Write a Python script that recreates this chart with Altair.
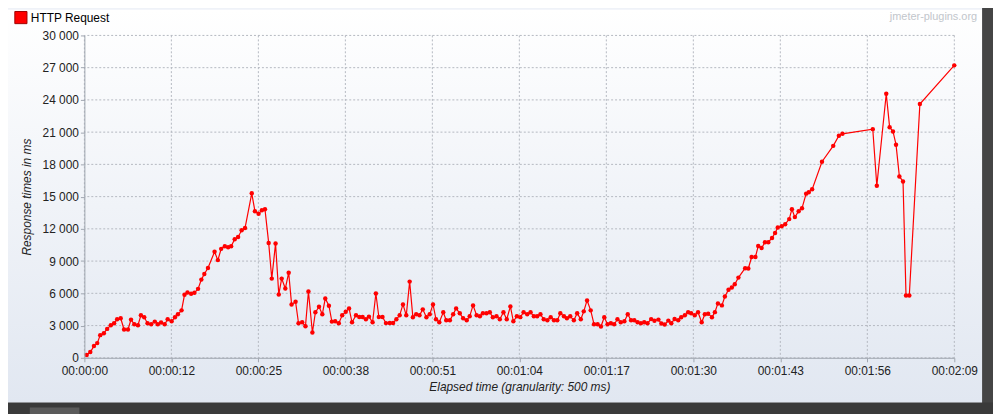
import json
import altair as alt
import pandas as pd

# ---------------- data ----------------
series_names = ["HTTP Request"]

times = [
    0.34, 0.88, 1.42, 1.91, 2.35, 2.89, 3.38, 3.92, 4.41, 4.86, 5.39, 5.89, 6.47, 6.92, 7.41, 7.95,
    8.39, 8.88, 9.37, 9.91, 10.45, 10.89, 11.38, 11.92, 12.36, 12.95, 13.44, 13.88, 14.42, 14.86,
    15.30, 15.84, 16.33, 16.87, 17.36, 17.80, 18.34, 19.32, 19.81, 20.30, 20.84, 21.33, 21.78,
    22.31, 22.81, 23.34, 23.84, 24.84,
    25.31, 25.85, 26.34, 26.80, 27.35, 27.81, 28.37, 28.85, 29.28, 29.82, 30.32, 30.75, 31.34,
    31.78, 32.32, 32.81, 33.25, 33.84, 34.28, 34.82, 35.31, 35.75, 36.29, 36.73, 37.22, 37.76,
    38.26, 38.79, 39.28, 39.72, 40.31, 40.80, 41.29, 41.78, 42.23, 42.77, 43.26, 43.70, 44.24,
    44.76,
    45.32, 45.81, 46.30, 46.79, 47.28, 47.77, 48.27, 48.75, 49.24, 49.73, 50.22, 50.76, 51.25,
    51.74, 52.18, 52.67, 53.26, 53.70, 54.24, 54.73, 55.17, 55.71, 56.21, 56.74, 57.18, 57.68,
    58.21, 58.70, 59.14, 59.68, 60.17, 60.62, 61.16, 61.65, 62.19, 62.68, 63.22, 63.66, 64.18,
    64.69,
    65.18, 65.72, 66.21, 66.70, 67.19, 67.68, 68.17, 68.71, 69.20, 69.69, 70.18, 70.63, 71.17,
    71.61, 72.10, 72.64, 73.13, 73.67, 74.11, 74.60, 75.14, 75.63, 76.17, 76.66, 77.15, 77.64,
    78.13, 78.62, 79.11, 79.60, 80.14, 80.64, 81.13, 81.61, 82.10, 82.59, 83.08, 83.57, 84.11,
    84.60,
    85.19, 85.63, 86.12, 86.66, 87.10, 87.59, 88.13, 88.57, 89.11, 89.60, 90.04, 90.58, 91.07,
    91.61, 92.08, 92.57, 93.13, 93.57, 94.02, 94.61, 95.05, 95.59, 96.08, 96.52, 97.06, 98.06,
    98.53, 99.02, 99.58, 100.00, 100.50, 101.00, 101.50, 102.05, 102.50, 102.90, 103.48, 104.00,
    104.60, 105.00, 105.44, 106.00, 106.50, 107.11, 107.50, 108.00, 109.46, 111.13, 111.97,
    112.50, 117.00, 117.60, 119.00, 119.50, 120.00, 120.45, 120.95, 121.49, 121.93, 122.42,
    123.99, 129.09,
]

values = [
    262, 538, 1092, 1369, 2108, 2292, 2692, 3031, 3215, 3585, 3677, 2631, 2631, 3554, 3123, 3031,
    3954, 3769, 3215, 3123, 3369, 3123, 3277, 3123, 3585, 3400, 3769, 4046, 4415, 5862,
    6077, 5954, 6046, 6415, 7277, 7800, 8354, 9862, 9092, 10138, 10385, 10292, 10385,
    11031, 11246, 11862, 12077, 15308,
    13646, 13400, 13738, 13831, 10692, 7369, 10631, 5892, 7369, 6446, 7923, 4969, 5215,
    3215, 3308, 2938, 6169, 2354, 4231, 4754, 4046, 5523, 4846, 3369, 3400, 3215,
    3954, 4292, 4600, 3308, 3954, 3800, 3800, 3585, 3831, 3308, 5985, 3800, 3800,
    3230,
    3246, 3246, 3585, 3954, 4969, 3954, 7092, 3769, 4046, 3954, 4508, 3769, 4046,
    4969, 3585, 3308, 4231, 3492, 3492, 4046, 4600, 4138, 3677, 3492, 3862, 4877,
    3954, 3862, 4138, 4138, 4231, 3769, 3862, 3585, 4231, 3585, 4785, 3400, 3862,
    3785,
    4231, 4046, 4231, 3862, 3862, 4046, 3585, 3492, 3769, 3492, 3492, 4138, 3862,
    3677, 3862, 3492, 4138, 3585, 4323, 5338, 4415, 3123, 3123, 2908, 3769, 3123,
    3215, 3123, 3585, 3308, 3400, 4046, 3492, 3492, 3308, 3215, 3308, 3215, 3600,
    3450,
    3554, 3185, 3092, 3462, 3215, 3615, 3492, 3769, 3954, 4231, 4138, 3954, 4231,
    3308, 4050, 4108, 3769, 4250, 5062, 4877, 5708, 6340, 6538, 6846, 7462, 8340,
    8310, 9380, 9380, 10400, 10215, 10754, 10754, 11154, 11615, 12123, 12246, 12431,
    12908, 13831, 13092, 13646, 13923, 15277, 15400, 15677, 18246, 19723, 20662,
    20846, 21280, 16015, 24569, 21462, 21062, 19831, 16877, 16415, 5800, 5800,
    23615, 27215,
]

x_tick_values = [0, 12.91, 25.82, 38.73, 51.64, 64.55, 77.46, 90.37, 103.28, 116.19, 129.1]
x_tick_labels = ["00:00:00", "00:00:12", "00:00:25", "00:00:38", "00:00:51", "00:01:04",
                 "00:01:17", "00:01:30", "00:01:43", "00:01:56", "00:02:09"]
y_tick_values = [0, 3000, 6000, 9000, 12000, 15000, 18000, 21000, 24000, 27000, 30000]
y_tick_labels = ["0", "3 000", "6 000", "9 000", "12 000", "15 000", "18 000", "21 000",
                 "24 000", "27 000", "30 000"]

x_title = "Elapsed time (granularity: 500 ms)"
y_title = "Response times in ms"
watermark = "jmeter-plugins.org"

# ---------------- tables ----------------
df = pd.DataFrame({"t": times, "ms": values, "series": series_names[0]})
xgrid = pd.DataFrame({"t": x_tick_values})
ygrid = pd.DataFrame({"ms": y_tick_values})
one = pd.DataFrame({"k": [0]})

W, H = 877, 325
FONT = "Liberation Sans"
GRID = "#b4b8c0"
AXIS = "#a0a6b0"
DARK = "#454545"

x_scale = alt.Scale(domain=[0, 129.1], nice=False, zero=False)
y_scale = alt.Scale(domain=[0, 30000], nice=False)

x_label_expr = f"{json.dumps(x_tick_labels)}[indexof({json.dumps(x_tick_values)}, datum.value)]"
y_label_expr = f"{json.dumps(y_tick_labels)}[indexof({json.dumps(y_tick_values)}, datum.value)]"

x_axis = alt.Axis(values=x_tick_values, labelExpr=x_label_expr, title=x_title, grid=False,
                  labelFlush=False, labelOverlap=False, labelPadding=4, titlePadding=5,
                  zindex=1)
y_axis = alt.Axis(values=y_tick_values, labelExpr=y_label_expr, title=y_title, grid=False,
                  labelOverlap=False, labelPadding=2, titlePadding=9, zindex=1)

gradient = alt.LinearGradient(
    gradient="linear",
    stops=[alt.GradientStop(color="#ffffff", offset=0),
           alt.GradientStop(color="#e1e7f1", offset=1)],
    x1=0, x2=0, y1=0, y2=1,
)

# light panel behind the whole chart (axes are drawn above it, zindex=1)
panel = alt.Chart(one).mark_rect(fill=gradient).encode(
    x=alt.value(-77), x2=alt.value(905), y=alt.value(-26), y2=alt.value(370)
)
# dark window frame pieces (right border, bottom bar, tab)
right_border = alt.Chart(one).mark_rect(fill=DARK).encode(
    x=alt.value(905), x2=alt.value(920), y=alt.value(-30), y2=alt.value(400)
)
bottom_bar = alt.Chart(one).mark_rect(fill="#3a3a3a").encode(
    x=alt.value(-80), x2=alt.value(920), y=alt.value(370), y2=alt.value(400)
)
tab = alt.Chart(one).mark_rect(fill="#5a5a5a").encode(
    x=alt.value(-55), x2=alt.value(-5), y=alt.value(375), y2=alt.value(400)
)
wm = alt.Chart(one).mark_text(
    text=watermark, font=FONT, fontSize=11, color="#c2c6cc", align="right", baseline="middle"
).encode(x=alt.value(900), y=alt.value(-19))

ygrid_layer = alt.Chart(ygrid).mark_rule(color=GRID, strokeDash=[2, 2], strokeWidth=1).encode(
    y=alt.Y("ms:Q", scale=y_scale, axis=y_axis)
)
xgrid_layer = alt.Chart(xgrid).mark_rule(color=GRID, strokeDash=[2, 2], strokeWidth=1).encode(
    x=alt.X("t:Q", scale=x_scale, axis=x_axis)
)

x_enc = alt.X("t:Q", scale=x_scale, axis=x_axis)
y_enc = alt.Y("ms:Q", scale=y_scale, axis=y_axis)

line = alt.Chart(df).mark_line(color="#ff0000", strokeWidth=1.2).encode(x=x_enc, y=y_enc)
points = alt.Chart(df).mark_point(filled=True, size=20, opacity=1, shape="circle").encode(
    x=x_enc,
    y=y_enc,
    color=alt.Color(
        "series:N",
        scale=alt.Scale(domain=series_names, range=["#ff0000"]),
        legend=alt.Legend(
            title=None, orient="none", legendX=-71, legendY=-25, symbolType="square",
            symbolSize=150, symbolStrokeColor="#a00000", symbolStrokeWidth=1,
            symbolFillColor="#ff0000", labelFont=FONT, labelFontSize=12, labelColor="#000000",
            labelOffset=3, padding=0,
        ),
    ),
)

chart = alt.layer(
    panel, right_border, bottom_bar, tab, wm, ygrid_layer, xgrid_layer, line, points
).properties(
    width=W, height=H,
    autosize=alt.AutoSizeParams(type="none"),
    padding={"left": 77, "top": 26, "right": 39, "bottom": 55},
    background="#eff2f8",
).configure_view(stroke=None).configure_axis(
    domainColor=AXIS, domainWidth=1,
    tickColor=AXIS, tickSize=4,
    labelFont=FONT, labelFontSize=12, labelColor="#222222",
    titleFont=FONT, titleFontSize=12, titleFontWeight="normal", titleFontStyle="italic",
    titleColor="#222222",
)

chart.save("out.html", embed_options={"renderer": "svg", "actions": False})
